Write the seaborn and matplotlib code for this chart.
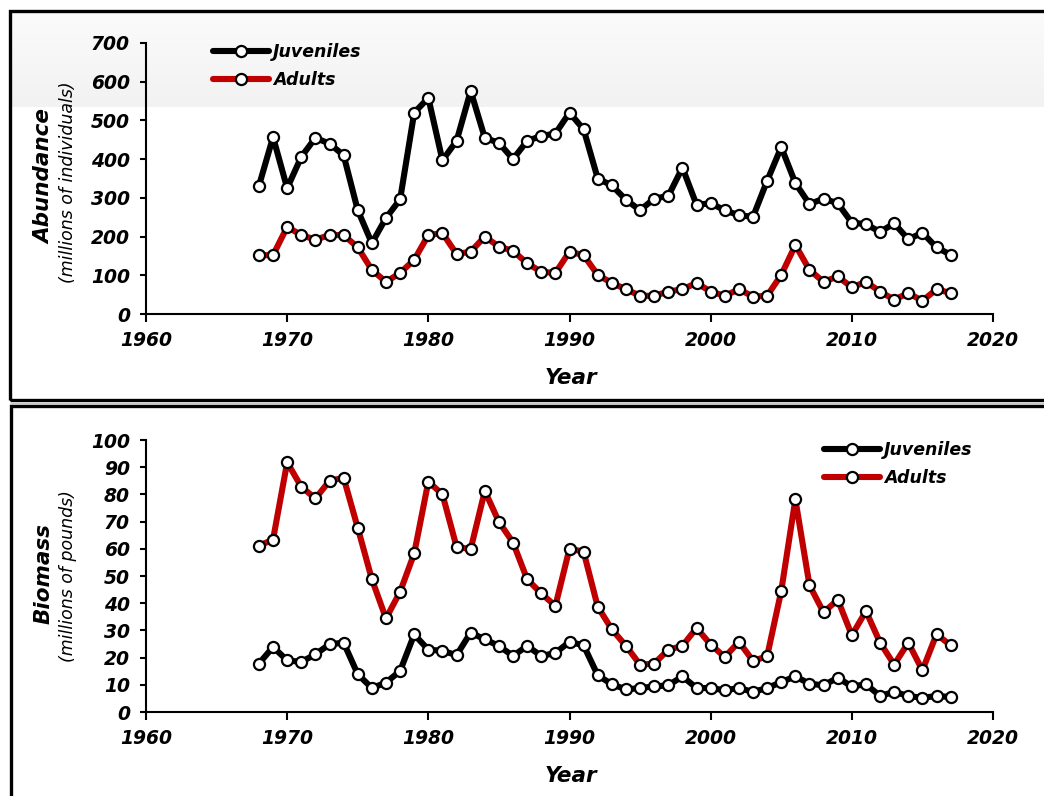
import numpy as np
import pandas as pd
import matplotlib
matplotlib.use("Agg")
import matplotlib.pyplot as plt
import seaborn as sns
from matplotlib.lines import Line2D
from matplotlib.patches import Rectangle

# ---------------- data ----------------
years = list(range(1968, 2018))

abund_juveniles = [331, 457, 325, 406, 455, 440, 410, 268, 183, 248, 296, 520, 558, 397, 447,
                   576, 455, 442, 400, 447, 460, 466, 520,
                   477, 350, 332, 295, 268, 298, 305, 378, 282, 286, 268, 255, 251, 344, 431,
                   338, 284, 298, 286, 236, 232, 212, 234, 193, 210, 172, 153]
abund_adults = [152, 152, 225, 204, 192, 204, 204, 172, 114, 83, 106, 140, 204, 209, 155,
                161, 200, 174, 163, 131, 109, 106, 161,
                152, 101, 80, 64, 47, 47, 58, 64, 80, 58, 47, 64, 45, 47, 101,
                178, 114, 83, 97, 69, 83, 58, 37, 54, 34, 64, 54]

bio_juveniles = [17.8, 23.9, 19.0, 18.4, 21.2, 24.9, 25.5, 13.9, 8.8, 10.8, 15.1, 28.5, 22.9,
                 22.5, 20.9, 29.2, 26.7, 24.3, 20.6, 24.3, 20.6, 21.7, 25.8,
                 24.5, 13.5, 10.2, 8.3, 8.8, 9.4, 9.8, 13.1, 8.8, 8.8, 8.0, 8.8, 7.4, 8.8,
                 11.0, 13.1, 10.4, 9.8, 12.6, 9.4, 10.2, 5.9, 7.4, 5.9, 5.2, 5.9, 5.5]
bio_adults = [61.1, 63.4, 91.8, 82.8, 78.5, 85.0, 86.1, 67.7, 48.8, 34.4, 44.2, 58.3, 84.7,
              80.0, 60.7, 59.9, 81.3, 69.9, 62.3, 48.8, 43.6, 39.0, 60.1,
              58.9, 38.7, 30.4, 24.3, 17.4, 17.8, 22.9, 24.3, 30.9, 24.8, 20.2, 25.8, 18.8,
              20.5, 44.5, 78.2, 46.6, 36.6, 41.3, 28.2, 37.1, 25.5, 17.4, 25.5, 15.3, 28.6, 24.5]

stages = ["Juveniles", "Adults"]
colors = {"Juveniles": "#000000", "Adults": "#c00000"}
x_ticks = [1960, 1970, 1980, 1990, 2000, 2010, 2020]
abund_ticks = [0, 100, 200, 300, 400, 500, 600, 700]
bio_ticks = [0, 10, 20, 30, 40, 50, 60, 70, 80, 90, 100]

# ---------------- style ----------------
sns.set_theme(style="ticks")
plt.rcParams["font.family"] = ["DejaVu Sans"]
plt.rcParams["text.color"] = "black"
plt.rcParams["axes.labelcolor"] = "black"
plt.rcParams["xtick.color"] = "black"
plt.rcParams["ytick.color"] = "black"

W, H = 1044, 796
fig = plt.figure(figsize=(W / 100, H / 100), dpi=100)


def fx(px):
    return px / W


def fy(py):
    return 1 - py / H


# background gray band in top panel
bg = fig.add_axes([fx(11), fy(107), fx(1044 - 11), (107 - 13) / H], zorder=0)
grad = np.linspace(0, 1, 100).reshape(-1, 1)
bg.imshow(grad, aspect="auto", cmap=matplotlib.colors.LinearSegmentedColormap.from_list(
    "g", ["#fbfbfb", "#f2f2f2"]), extent=[0, 1, 0, 1], origin="upper")
bg.set_axis_off()

# frames
fig.patches.append(Rectangle((fx(9.5), fy(400)), fx(1060), (400 - 11.5) / H, fill=False,
                             edgecolor="black", linewidth=2.4, transform=fig.transFigure,
                             zorder=1))
fig.patches.append(Rectangle((fx(11), fy(820)), fx(1060), (820 - 406.5) / H, fill=False,
                             edgecolor="black", linewidth=2.4, transform=fig.transFigure,
                             zorder=1))
fig.add_artist(Line2D([fx(11), 1], [fy(403.5), fy(403.5)], color="#bbbbbb", lw=1.2,
                      transform=fig.transFigure))

ax_top = fig.add_axes([fx(146), fy(314), fx(993 - 146), (314 - 43) / H], zorder=2)
ax_bot = fig.add_axes([fx(146), fy(712), fx(993 - 146), (712 - 440) / H], zorder=2)

LW = 4.4
MS = 8.0
MEW = 1.6


def draw(ax, juv, adu, ylim, yticks):
    df = pd.DataFrame({
        "Year": years * 2,
        "Value": list(juv) + list(adu),
        "Stage": ["Juveniles"] * len(years) + ["Adults"] * len(years),
    })
    sns.lineplot(data=df, x="Year", y="Value", hue="Stage", hue_order=stages,
                 palette=colors, ax=ax, linewidth=LW, marker="o", markersize=MS,
                 markerfacecolor="white", markeredgecolor="black", markeredgewidth=MEW,
                 legend=False, zorder=3)
    ax.set_xlim(1960, 2020)
    ax.set_ylim(*ylim)
    ax.set_xticks(x_ticks)
    ax.set_yticks(yticks)
    ax.set_xlabel("")
    ax.set_ylabel("")
    ax.patch.set_alpha(0)
    for s in ["top", "right"]:
        ax.spines[s].set_visible(False)
    for s in ["left", "bottom"]:
        ax.spines[s].set_linewidth(1.5)
        ax.spines[s].set_color("black")
    ax.tick_params(axis="x", direction="out", length=6, width=1.5, pad=6, colors="black",
                   labelsize=13.5)
    ax.tick_params(axis="y", direction="out", length=4.5, width=1.5, pad=7, colors="black",
                   labelsize=13.5)
    for lab in ax.get_xticklabels() + ax.get_yticklabels():
        lab.set_fontweight("bold")
        lab.set_fontstyle("italic")


draw(ax_top, abund_juveniles, abund_adults, (0, 700), abund_ticks)
draw(ax_bot, bio_juveniles, bio_adults, (0, 100), bio_ticks)


def legend(ax, x, y):
    handles = [Line2D([], [], color=colors[s], lw=LW, marker="o", markersize=MS,
                      markerfacecolor="white", markeredgecolor="black",
                      markeredgewidth=MEW) for s in stages]
    leg = ax.legend(handles, stages, loc="upper left", bbox_to_anchor=(fx(x), fy(y)),
                    bbox_transform=fig.transFigure, frameon=False, handlelength=3.2,
                    handletextpad=0.25, labelspacing=0.6, borderpad=0, borderaxespad=0,
                    labelcolor="black",
                    prop={"weight": "bold", "style": "italic", "size": 12.5})
    return leg


legend(ax_top, 213, 43)
legend(ax_bot, 824, 441)

# axis labels
lab_kw = dict(fontweight="bold", fontstyle="italic", fontsize=15.5, color="black")
sub_kw = dict(fontstyle="italic", fontsize=12.5, color="black")
fig.text(fx(44), fy(177), "Abundance", rotation=90, ha="center", va="center", **lab_kw)
fig.text(fx(68), fy(182), "(millions of individuals)", rotation=90, ha="center",
         va="center", **sub_kw)
fig.text(fx(44), fy(574), "Biomass", rotation=90, ha="center", va="center", **lab_kw)
fig.text(fx(68), fy(576), "(millions of pounds)", rotation=90, ha="center", va="center",
         **sub_kw)
fig.text(fx(571), fy(378), "Year", ha="center", va="center", **lab_kw)
fig.text(fx(571), fy(776), "Year", ha="center", va="center", **lab_kw)

fig.savefig("out.png", dpi=100)
